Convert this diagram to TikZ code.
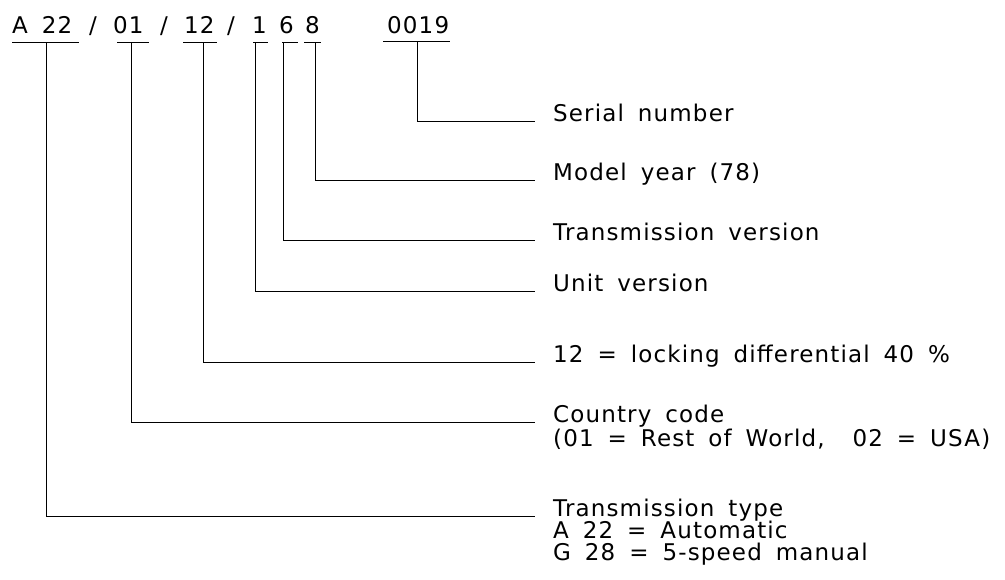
\documentclass[tikz,border=0pt]{standalone}
\usepackage{fontspec}
\setmainfont{DejaVu Sans}[LetterSpace=5,WordSpace=1.65]
\begin{document}
\begin{tikzpicture}[x=1pt,y=-1pt,
  code/.style={anchor=base west,inner sep=0pt,font=\fontsize{23}{24}\selectfont},
  lbl/.style={anchor=base west,inner sep=0pt,font=\fontsize{23}{24}\selectfont},
  uline/.style={line width=1pt},
  conn/.style={line width=0.9pt}]
\useasboundingbox (0,0) rectangle (1005,579);
% code line
\node[code] (cA) at (12,33) {A\hspace{14pt}22};
\node[code] (s1) at (89,33) {/};
\node[code] (c01) at (113,33) {01};
\node[code] (s2) at (160,33) {/};
\node[code] (c12) at (184,33) {12};
\node[code] (s3) at (227,33) {/};
\node[code] (c1) at (252,33) {1};
\node[code] (c6) at (279,33) {6};
\node[code] (c8) at (305,33) {8};
\node[code] (c0019) at (387,33) {0019};
% underline attachment points
\coordinate (uA) at (46,42);
\coordinate (u01) at (131,42);
\coordinate (u12) at (203,42);
\coordinate (u1) at (255,42);
\coordinate (u6) at (283,42);
\coordinate (u8) at (315,42);
\coordinate (u0019) at (417,41);
% underlines
\draw[uline] (12,42) -- (79,42);
\draw[uline] (117,42) -- (149,42);
\draw[uline] (183,42) -- (217,42);
\draw[uline] (253,42) -- (268,42);
\draw[uline] (282,42) -- (298,42);
\draw[uline] (304,42) -- (321,42);
\draw[uline] (383,41) -- (450,41);
% labels
\node[lbl] (lser) at (553,121) {Serial number};
\node[lbl] (lmod) at (553,180) {Model year (78)};
\node[lbl] (ltv) at (553,240) {Transmission version};
\node[lbl] (luv) at (553,291) {Unit version};
\node[lbl] (lld) at (553,362) {12 = locking differential 40 \%};
\node[lbl] (lcc) at (553,422) {Country code};
\node[lbl] (lcc2) at (553,446) {(01 = Rest of World,\ \ 02 = USA)};
\node[lbl] (ltt) at (553,516) {Transmission type};
\node[lbl] (ltt2) at (553,538) {A 22 = Automatic};
\node[lbl] (ltt3) at (553,560) {G 28 = 5-speed manual};
% connectors
\draw[conn] (u0019) |- ([xshift=-18pt]lser.base west);
\draw[conn] (u8) |- ([xshift=-18pt]lmod.base west);
\draw[conn] (u6) |- ([xshift=-18pt]ltv.base west);
\draw[conn] (u1) |- ([xshift=-18pt]luv.base west);
\draw[conn] (u12) |- ([xshift=-18pt]lld.base west);
\draw[conn] (u01) |- ([xshift=-18pt]lcc.base west);
\draw[conn] (uA) |- ([xshift=-18pt]ltt.base west);
\end{tikzpicture}
\end{document}
